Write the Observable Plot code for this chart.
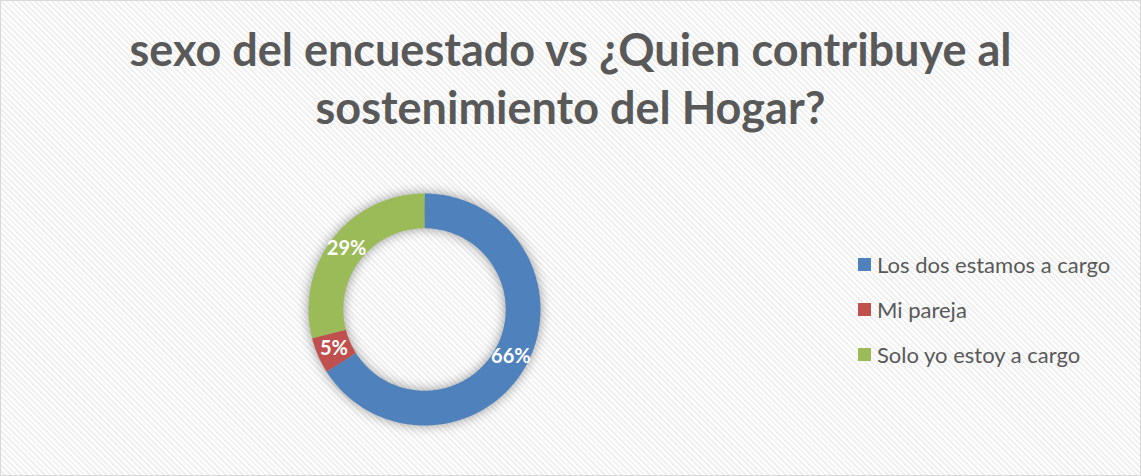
<!DOCTYPE html>
<html><head><meta charset="utf-8">
<script src="https://cdn.jsdelivr.net/npm/d3@7"></script>
<script src="https://cdn.jsdelivr.net/npm/@observablehq/plot@0.6"></script>
<style>
body{margin:0;background:#fff;}
#frame{position:relative;width:1139px;height:474px;border:1px solid #d9d9d9;
  background:repeating-linear-gradient(45deg,#ffffff 0px,#ffffff 2px,#f0f0f0 2px,#f0f0f0 4px);
  overflow:hidden;font-family:Lato,"Open Sans",sans-serif;color:#595959;}
.title{position:absolute;left:0;width:100%;text-align:center;font-weight:bold;font-size:45px;line-height:58px;white-space:nowrap;}
#chart{position:absolute;left:293px;top:178px;}
#legend{position:absolute;left:857px;top:0;}
.row{position:absolute;left:0;display:flex;align-items:center;white-space:nowrap;font-size:22px;height:30px;}
.sw{width:13px;height:13px;margin-right:6px;flex:none;}
</style></head>
<body>
<div id="frame">
  <div class="title" style="top:19px">sexo del encuestado vs ¿Quien contribuye al</div>
  <div class="title" style="top:77px">sostenimiento del Hogar?</div>
  <div id="chart"></div>
  <div id="legend"></div>
</div>
<script>
const categories = ["Los dos estamos a cargo", "Mi pareja", "Solo yo estoy a cargo"];
const values = [66, 5, 29];
const colors = ["#4F81BD", "#C0504D", "#9BBB59"];

const outer = 1, inner = 0.7, R = 130/116;
const total = d3.sum(values);
const poly = [], labels = [];
let acc = 0;
values.forEach((v, i) => {
  const a0 = acc / total * 2 * Math.PI, a1 = (acc + v) / total * 2 * Math.PI;
  acc += v;
  const n = Math.max(4, Math.ceil(v * 3));
  for (let k = 0; k <= n; k++) { const a = a0 + (a1 - a0) * k / n; poly.push({cat: categories[i], x: outer*Math.sin(a), y: outer*Math.cos(a)}); }
  for (let k = n; k >= 0; k--) { const a = a0 + (a1 - a0) * k / n; poly.push({cat: categories[i], x: inner*Math.sin(a), y: inner*Math.cos(a)}); }
  const am = (a0 + a1) / 2, rm = (outer + inner) / 2;
  labels.push({text: v + "%", x: rm*Math.sin(am), y: rm*Math.cos(am)});
});

const svg = Plot.plot({
  width: 260, height: 260, margin: 0,
  x: {domain: [-R, R], axis: null},
  y: {domain: [-R, R], axis: null},
  color: {domain: categories, range: colors},
  style: {background: "transparent", overflow: "visible"},
  marks: [
    Plot.line(poly, {x: "x", y: "y", z: "cat", fill: "cat", stroke: "none", curve: "linear-closed"}),
    Plot.text(labels, {x: "x", y: "y", text: "text", fill: "white", fontSize: 20, fontWeight: "bold", fontFamily: "Lato"})
  ]
});
const lineG = svg.querySelector('g[aria-label="line"]');
if (lineG) lineG.style.filter = "drop-shadow(0 0 6px rgba(0,0,0,0.4))";
document.getElementById("chart").appendChild(svg);

const legend = document.getElementById("legend");
const rowCenters = [263, 308, 353];
categories.forEach((c, i) => {
  const row = document.createElement("div");
  row.className = "row";
  row.style.top = (rowCenters[i] - 15) + "px";
  row.innerHTML = `<div class="sw" style="background:${colors[i]}"></div><span>${c}</span>`;
  legend.appendChild(row);
});
</script>
</body></html>
